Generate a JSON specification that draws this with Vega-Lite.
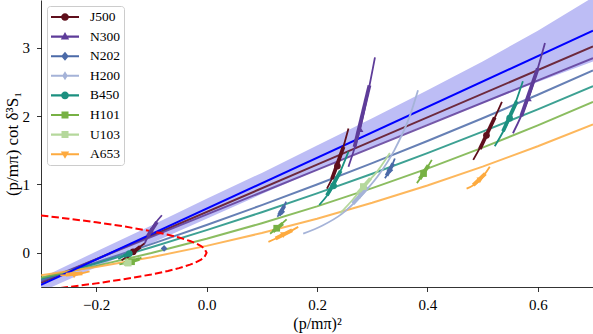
{
 "$schema": "https://vega.github.io/schema/vega-lite/v6.json",
 "width": 552, "height": 287,
 "autosize": {"type": "none"},
 "padding": {"left": 41, "top": 0, "right": 0, "bottom": 47},
 "background": "white",
 "config": {
  "view": {"stroke": null},
  "axis": {"domainColor": "black", "domainWidth": 0.8, "tickColor": "black", "tickWidth": 0.8, "tickSize": 4.5, "grid": false,
   "labelFont": "Liberation Serif", "labelFontSize": 15, "labelColor": "black",
   "titleFont": "Liberation Serif", "titleFontSize": 16, "titleColor": "black", "titleFontWeight": "normal"},
  "axisX": {"labelPadding": 6, "titlePadding": 3},
  "axisY": {"labelPadding": 7, "titlePadding": 1, "titleFontSize": 17},
  "legend": {"title": null, "orient": "top-left", "offset": 6, "padding": 4, "rowPadding": 5.6, "labelOffset": 25,
   "symbolSize": 196, "symbolStrokeWidth": 0, "symbolOpacity": 1, "strokeColor": "#cccccc", "fillColor": "white", "cornerRadius": 3,
   "labelFont": "Liberation Serif", "labelFontSize": 13.5, "labelColor": "black"}
 },
 "datasets": {
  "band": [
   {"x": -0.3, "y": -0.57, "hi": -0.37}, {"x": -0.2, "y": -0.21, "hi": 0.02}, {"x": -0.1, "y": 0.14, "hi": 0.40},
   {"x": 0.0, "y": 0.50, "hi": 0.79}, {"x": 0.1, "y": 0.86, "hi": 1.17}, {"x": 0.2, "y": 1.21, "hi": 1.57},
   {"x": 0.3, "y": 1.55, "hi": 1.97}, {"x": 0.4, "y": 1.88, "hi": 2.38}, {"x": 0.5, "y": 2.19, "hi": 2.80},
   {"x": 0.6, "y": 2.50, "hi": 3.25}, {"x": 0.7, "y": 2.80, "hi": 3.74}
  ],
  "fit": [{"x": -0.3, "y": -0.47}, {"x": 0.7, "y": 3.25}],
  "lines": [
   {"series": "J500", "x": -0.3, "y": -0.44}, {"series": "J500", "x": 0.2, "y": 1.29}, {"series": "J500", "x": 0.7, "y": 3.02},
   {"series": "N300", "x": -0.3, "y": -0.42}, {"series": "N300", "x": 0.2, "y": 1.215}, {"series": "N300", "x": 0.7, "y": 2.85},
   {"series": "N202", "x": -0.3, "y": -0.40}, {"series": "N202", "x": -0.2, "y": -0.142}, {"series": "N202", "x": -0.1, "y": 0.128},
   {"series": "N202", "x": 0.0, "y": 0.408}, {"series": "N202", "x": 0.1, "y": 0.698}, {"series": "N202", "x": 0.2, "y": 1.0},
   {"series": "N202", "x": 0.3, "y": 1.312}, {"series": "N202", "x": 0.4, "y": 1.636}, {"series": "N202", "x": 0.5, "y": 1.97},
   {"series": "N202", "x": 0.6, "y": 2.314}, {"series": "N202", "x": 0.7, "y": 2.67},
   {"series": "B450", "x": -0.3, "y": -0.38}, {"series": "B450", "x": -0.2, "y": -0.156}, {"series": "B450", "x": -0.1, "y": 0.082},
   {"series": "B450", "x": 0.0, "y": 0.332}, {"series": "B450", "x": 0.1, "y": 0.594}, {"series": "B450", "x": 0.2, "y": 0.87},
   {"series": "B450", "x": 0.3, "y": 1.158}, {"series": "B450", "x": 0.4, "y": 1.46}, {"series": "B450", "x": 0.5, "y": 1.774},
   {"series": "B450", "x": 0.6, "y": 2.10}, {"series": "B450", "x": 0.7, "y": 2.44},
   {"series": "H101", "x": -0.3, "y": -0.36}, {"series": "H101", "x": -0.2, "y": -0.191}, {"series": "H101", "x": -0.1, "y": -0.003},
   {"series": "H101", "x": 0.0, "y": 0.205}, {"series": "H101", "x": 0.1, "y": 0.433}, {"series": "H101", "x": 0.2, "y": 0.68},
   {"series": "H101", "x": 0.3, "y": 0.947}, {"series": "H101", "x": 0.4, "y": 1.233}, {"series": "H101", "x": 0.5, "y": 1.539},
   {"series": "H101", "x": 0.6, "y": 1.865}, {"series": "H101", "x": 0.7, "y": 2.21},
   {"series": "A653", "x": -0.3, "y": -0.33}, {"series": "A653", "x": -0.2, "y": -0.208}, {"series": "A653", "x": -0.1, "y": -0.064},
   {"series": "A653", "x": 0.0, "y": 0.102}, {"series": "A653", "x": 0.1, "y": 0.29}, {"series": "A653", "x": 0.2, "y": 0.5},
   {"series": "A653", "x": 0.3, "y": 0.732}, {"series": "A653", "x": 0.4, "y": 0.986}, {"series": "A653", "x": 0.5, "y": 1.262},
   {"series": "A653", "x": 0.6, "y": 1.56}, {"series": "A653", "x": 0.7, "y": 1.88}
  ],
  "red": [
   {"o": 1, "x": -0.3, "y": 0.548}, {"o": 2, "x": -0.25, "y": 0.5}, {"o": 3, "x": -0.2, "y": 0.447}, {"o": 4, "x": -0.15, "y": 0.387},
   {"o": 5, "x": -0.1, "y": 0.316}, {"o": 6, "x": -0.07, "y": 0.265}, {"o": 7, "x": -0.05, "y": 0.224}, {"o": 8, "x": -0.03, "y": 0.173},
   {"o": 9, "x": -0.02, "y": 0.141}, {"o": 10, "x": -0.01, "y": 0.1}, {"o": 11, "x": -0.004, "y": 0.063}, {"o": 12, "x": 0.0, "y": 0.0},
   {"o": 13, "x": -0.004, "y": -0.063}, {"o": 14, "x": -0.01, "y": -0.1}, {"o": 15, "x": -0.02, "y": -0.141}, {"o": 16, "x": -0.03, "y": -0.173},
   {"o": 17, "x": -0.05, "y": -0.224}, {"o": 18, "x": -0.07, "y": -0.265}, {"o": 19, "x": -0.1, "y": -0.316}, {"o": 20, "x": -0.15, "y": -0.387},
   {"o": 21, "x": -0.2, "y": -0.447}, {"o": 22, "x": -0.25, "y": -0.5}, {"o": 23, "x": -0.3, "y": -0.548}
  ],
  "thin": [
   {"series": "J500", "id": "J500a", "x": -0.154, "y": -0.11}, {"series": "J500", "id": "J500a", "x": -0.133, "y": 0.015}, {"series": "J500", "id": "J500a", "x": -0.112, "y": 0.14},
   {"series": "N300", "id": "N300a", "x": -0.112, "y": 0.14}, {"series": "N300", "id": "N300a", "x": -0.101, "y": 0.33}, {"series": "N300", "id": "N300a", "x": -0.081, "y": 0.55},
   {"series": "B450", "id": "B450a", "x": -0.16, "y": -0.09}, {"series": "B450", "id": "B450a", "x": -0.14, "y": -0.01}, {"series": "B450", "id": "B450a", "x": -0.125, "y": 0.05},
   {"series": "H101", "id": "H101a", "x": -0.158, "y": -0.17}, {"series": "H101", "id": "H101a", "x": -0.136, "y": -0.13}, {"series": "H101", "id": "H101a", "x": -0.118, "y": -0.07},
   {"series": "U103", "id": "U103a", "x": -0.152, "y": -0.17}, {"series": "U103", "id": "U103a", "x": -0.142, "y": -0.15}, {"series": "U103", "id": "U103a", "x": -0.128, "y": -0.11},
   {"series": "A653", "id": "A653a", "x": -0.265, "y": -0.33}, {"series": "A653", "id": "A653a", "x": -0.24, "y": -0.32}, {"series": "A653", "id": "A653a", "x": -0.212, "y": -0.27},
   {"series": "N202", "id": "N202b", "x": 0.128, "y": 0.53}, {"series": "N202", "id": "N202b", "x": 0.136, "y": 0.60}, {"series": "N202", "id": "N202b", "x": 0.144, "y": 0.75},
   {"series": "H101", "id": "H101b", "x": 0.115, "y": 0.28}, {"series": "H101", "id": "H101b", "x": 0.127, "y": 0.36}, {"series": "H101", "id": "H101b", "x": 0.145, "y": 0.49},
   {"series": "A653", "id": "A653b", "x": 0.112, "y": 0.16}, {"series": "A653", "id": "A653b", "x": 0.139, "y": 0.26}, {"series": "A653", "id": "A653b", "x": 0.166, "y": 0.38},
   {"series": "J500", "id": "J500c", "x": 0.218, "y": 0.94}, {"series": "J500", "id": "J500c", "x": 0.237, "y": 1.27}, {"series": "J500", "id": "J500c", "x": 0.257, "y": 1.82},
   {"series": "B450", "id": "B450c", "x": 0.204, "y": 0.70}, {"series": "B450", "id": "B450c", "x": 0.23, "y": 0.98}, {"series": "B450", "id": "B450c", "x": 0.257, "y": 1.48},
   {"series": "N300", "id": "N300c", "x": 0.257, "y": 1.26}, {"series": "N300", "id": "N300c", "x": 0.278, "y": 1.81}, {"series": "N300", "id": "N300c", "x": 0.305, "y": 2.86},
   {"series": "N202", "id": "N202c", "x": 0.323, "y": 1.09}, {"series": "N202", "id": "N202c", "x": 0.332, "y": 1.21}, {"series": "N202", "id": "N202c", "x": 0.341, "y": 1.38},
   {"series": "H101", "id": "H101d", "x": 0.381, "y": 1.02}, {"series": "H101", "id": "H101d", "x": 0.393, "y": 1.16}, {"series": "H101", "id": "H101d", "x": 0.408, "y": 1.36},
   {"series": "J500", "id": "J500d", "x": 0.483, "y": 1.36}, {"series": "J500", "id": "J500d", "x": 0.507, "y": 1.72}, {"series": "J500", "id": "J500d", "x": 0.535, "y": 2.21},
   {"series": "B450", "id": "B450d", "x": 0.522, "y": 1.56}, {"series": "B450", "id": "B450d", "x": 0.549, "y": 1.97}, {"series": "B450", "id": "B450d", "x": 0.573, "y": 2.51},
   {"series": "N300", "id": "N300d", "x": 0.555, "y": 1.75}, {"series": "N300", "id": "N300d", "x": 0.583, "y": 2.26}, {"series": "N300", "id": "N300d", "x": 0.613, "y": 3.07},
   {"series": "A653", "id": "A653d", "x": 0.471, "y": 0.94}, {"series": "A653", "id": "A653d", "x": 0.495, "y": 1.06}, {"series": "A653", "id": "A653d", "x": 0.513, "y": 1.26},
   {"series": "H200", "id": "H200c", "x": 0.175, "y": 0.28}, {"series": "H200", "id": "H200c", "x": 0.21, "y": 0.40}, {"series": "H200", "id": "H200c", "x": 0.245, "y": 0.57},
   {"series": "H200", "id": "H200c", "x": 0.278, "y": 0.82}, {"series": "H200", "id": "H200c", "x": 0.31, "y": 1.12}, {"series": "H200", "id": "H200c", "x": 0.34, "y": 1.5},
   {"series": "H200", "id": "H200c", "x": 0.368, "y": 2.0}, {"series": "H200", "id": "H200c", "x": 0.383, "y": 2.38},
   {"series": "U103", "id": "U103c", "x": 0.242, "y": 0.58}, {"series": "U103", "id": "U103c", "x": 0.265, "y": 0.78}, {"series": "U103", "id": "U103c", "x": 0.284, "y": 0.97},
   {"series": "U103", "id": "U103c", "x": 0.31, "y": 1.2}, {"series": "U103", "id": "U103c", "x": 0.332, "y": 1.46}
  ],
  "thick": [
   {"series": "J500", "id": "J500a", "x": -0.145, "y": -0.06}, {"series": "J500", "id": "J500a", "x": -0.12, "y": 0.09},
   {"series": "N300", "id": "N300a", "x": -0.107, "y": 0.24}, {"series": "N300", "id": "N300a", "x": -0.09, "y": 0.45},
   {"series": "B450", "id": "B450a", "x": -0.15, "y": -0.05}, {"series": "B450", "id": "B450a", "x": -0.13, "y": 0.03},
   {"series": "H101", "id": "H101a", "x": -0.15, "y": -0.16}, {"series": "H101", "id": "H101a", "x": -0.122, "y": -0.09},
   {"series": "U103", "id": "U103a", "x": -0.15, "y": -0.165}, {"series": "U103", "id": "U103a", "x": -0.132, "y": -0.12},
   {"series": "A653", "id": "A653a", "x": -0.255, "y": -0.32}, {"series": "A653", "id": "A653a", "x": -0.225, "y": -0.30},
   {"series": "N202", "id": "N202b", "x": 0.131, "y": 0.55}, {"series": "N202", "id": "N202b", "x": 0.141, "y": 0.69},
   {"series": "H101", "id": "H101b", "x": 0.12, "y": 0.31}, {"series": "H101", "id": "H101b", "x": 0.138, "y": 0.43},
   {"series": "A653", "id": "A653b", "x": 0.125, "y": 0.21}, {"series": "A653", "id": "A653b", "x": 0.155, "y": 0.33},
   {"series": "J500", "id": "J500c", "x": 0.227, "y": 1.08}, {"series": "J500", "id": "J500c", "x": 0.248, "y": 1.55},
   {"series": "B450", "id": "B450c", "x": 0.218, "y": 0.84}, {"series": "B450", "id": "B450c", "x": 0.243, "y": 1.2},
   {"series": "N300", "id": "N300c", "x": 0.268, "y": 1.55}, {"series": "N300", "id": "N300c", "x": 0.295, "y": 2.45},
   {"series": "N202", "id": "N202c", "x": 0.326, "y": 1.13}, {"series": "N202", "id": "N202c", "x": 0.338, "y": 1.31},
   {"series": "H101", "id": "H101d", "x": 0.386, "y": 1.08}, {"series": "H101", "id": "H101d", "x": 0.402, "y": 1.28},
   {"series": "J500", "id": "J500d", "x": 0.495, "y": 1.52}, {"series": "J500", "id": "J500d", "x": 0.522, "y": 1.98},
   {"series": "B450", "id": "B450d", "x": 0.537, "y": 1.78}, {"series": "B450", "id": "B450d", "x": 0.562, "y": 2.22},
   {"series": "N300", "id": "N300d", "x": 0.57, "y": 2.0}, {"series": "N300", "id": "N300d", "x": 0.6, "y": 2.7},
   {"series": "A653", "id": "A653d", "x": 0.483, "y": 0.99}, {"series": "A653", "id": "A653d", "x": 0.505, "y": 1.16},
   {"series": "H200", "id": "H200c", "x": 0.265, "y": 0.72}, {"series": "H200", "id": "H200c", "x": 0.292, "y": 0.96},
   {"series": "U103", "id": "U103c", "x": 0.273, "y": 0.86}, {"series": "U103", "id": "U103c", "x": 0.297, "y": 1.09}
  ],
  "pts": [
   {"series": "J500", "x": -0.133, "y": 0.015}, {"series": "J500", "x": 0.237, "y": 1.27}, {"series": "J500", "x": 0.507, "y": 1.72},
   {"series": "N300", "x": -0.101, "y": 0.33}, {"series": "N300", "x": 0.278, "y": 1.81}, {"series": "N300", "x": 0.583, "y": 2.26},
   {"series": "N202", "x": -0.077, "y": 0.065}, {"series": "N202", "x": 0.136, "y": 0.60}, {"series": "N202", "x": 0.332, "y": 1.21},
   {"series": "H200", "x": 0.278, "y": 0.84},
   {"series": "B450", "x": -0.14, "y": -0.01}, {"series": "B450", "x": 0.23, "y": 0.98}, {"series": "B450", "x": 0.549, "y": 1.97},
   {"series": "H101", "x": -0.136, "y": -0.13}, {"series": "H101", "x": 0.127, "y": 0.36}, {"series": "H101", "x": 0.393, "y": 1.16},
   {"series": "U103", "x": -0.142, "y": -0.15}, {"series": "U103", "x": 0.284, "y": 0.97},
   {"series": "A653", "x": -0.24, "y": -0.33}, {"series": "A653", "x": 0.139, "y": 0.26}, {"series": "A653", "x": 0.495, "y": 1.06}
  ]
 },
 "encoding": {
  "x": {"field": "x", "type": "quantitative", "scale": {"domain": [-0.3, 0.7], "nice": false, "zero": false},
   "axis": {"values": [-0.2, 0, 0.2, 0.4, 0.6], "format": ".1f", "labelExpr": "replace(datum.label, '-', '−')", "title": "(p/mπ)²", "labelFlush": false}},
  "y": {"field": "y", "type": "quantitative", "scale": {"domain": [-0.5, 3.7], "nice": false, "zero": false},
   "axis": {"values": [0, 1, 2, 3], "title": "(p/mπ) cot δ³S₁"}}
 },
 "layer": [
  {"data": {"name": "pts"}, "mark": {"type": "point", "filled": true, "opacity": 0, "size": 196},
   "encoding": {
    "color": {"field": "series", "type": "nominal", "legend": {"symbolStrokeWidth": 0},
     "scale": {"domain": ["J500", "N300", "N202", "H200", "B450", "H101", "U103", "A653"], "range": ["#5f0f1c", "#5e3c99", "#4b6aa8", "#a5b3d8", "#1b9080", "#77b144", "#b5d89c", "#fdaa3f"]}},
    "shape": {"field": "series", "type": "nominal", "legend": {"symbolStrokeWidth": 0},
     "scale": {"domain": ["J500", "N300", "N202", "H200", "B450", "H101", "U103", "A653"],
      "range": [
       "M-1,-0.15L3,-0.15L3,0.15L-1,0.15ZM1.55,0A0.55,0.55 0 1,1 0.45,0A0.55,0.55 0 1,1 1.55,0Z",
       "M-1,-0.15L3,-0.15L3,0.15L-1,0.15ZM1,-0.65L1.6,0.4L0.4,0.4Z",
       "M-1,-0.15L3,-0.15L3,0.15L-1,0.15ZM1,-0.65L1.55,0L1,0.65L0.45,0Z",
       "M-1,-0.15L3,-0.15L3,0.15L-1,0.15ZM1,-0.65L1.4,0L1,0.65L0.6,0Z",
       "M-1,-0.15L3,-0.15L3,0.15L-1,0.15ZM1.55,0A0.55,0.55 0 1,1 0.45,0A0.55,0.55 0 1,1 1.55,0Z",
       "M-1,-0.15L3,-0.15L3,0.15L-1,0.15ZM0.5,-0.5L1.5,-0.5L1.5,0.5L0.5,0.5Z",
       "M-1,-0.15L3,-0.15L3,0.15L-1,0.15ZM0.5,-0.5L1.5,-0.5L1.5,0.5L0.5,0.5Z",
       "M-1,-0.15L3,-0.15L3,0.15L-1,0.15ZM0.4,-0.4L1.6,-0.4L1,0.65Z"
      ]}}
   }},
  {"data": {"name": "band"}, "mark": {"type": "area", "color": "#bdbdf5", "clip": true}, "encoding": {"y2": {"field": "hi"}}},
  {"data": {"name": "lines"}, "mark": {"type": "line", "strokeWidth": 2, "opacity": 0.85, "clip": true},
   "encoding": {"color": {"field": "series", "type": "nominal", "legend": null}}},
  {"data": {"name": "fit"}, "mark": {"type": "line", "strokeWidth": 2, "color": "#0000ff", "clip": true}, "encoding": {}},
  {"data": {"name": "red"}, "mark": {"type": "line", "strokeWidth": 2, "color": "#ff0000", "strokeDash": [7.4, 3.2], "clip": true},
   "encoding": {"order": {"field": "o", "type": "quantitative"}}},
  {"data": {"name": "thin"}, "mark": {"type": "line", "strokeWidth": 1.8, "clip": true, "interpolate": "monotone"},
   "encoding": {"color": {"field": "series", "type": "nominal", "legend": null}, "detail": {"field": "id", "type": "nominal"}}},
  {"data": {"name": "thick"}, "mark": {"type": "line", "strokeWidth": 3.8, "clip": true},
   "encoding": {"color": {"field": "series", "type": "nominal", "legend": null}, "detail": {"field": "id", "type": "nominal"}}},
  {"data": {"name": "pts"}, "mark": {"type": "point", "filled": true, "opacity": 1, "size": 45, "clip": true},
   "encoding": {"color": {"field": "series", "type": "nominal", "legend": null},
    "shape": {"condition": [
      {"test": "datum.series === 'N300'", "value": "triangle-up"},
      {"test": "datum.series === 'N202'", "value": "diamond"},
      {"test": "datum.series === 'H200'", "value": "M0,-1L0.6,0L0,1L-0.6,0Z"},
      {"test": "datum.series === 'H101' || datum.series === 'U103'", "value": "square"},
      {"test": "datum.series === 'A653'", "value": "triangle-down"}
     ], "value": "circle"}}}
 ]
}
